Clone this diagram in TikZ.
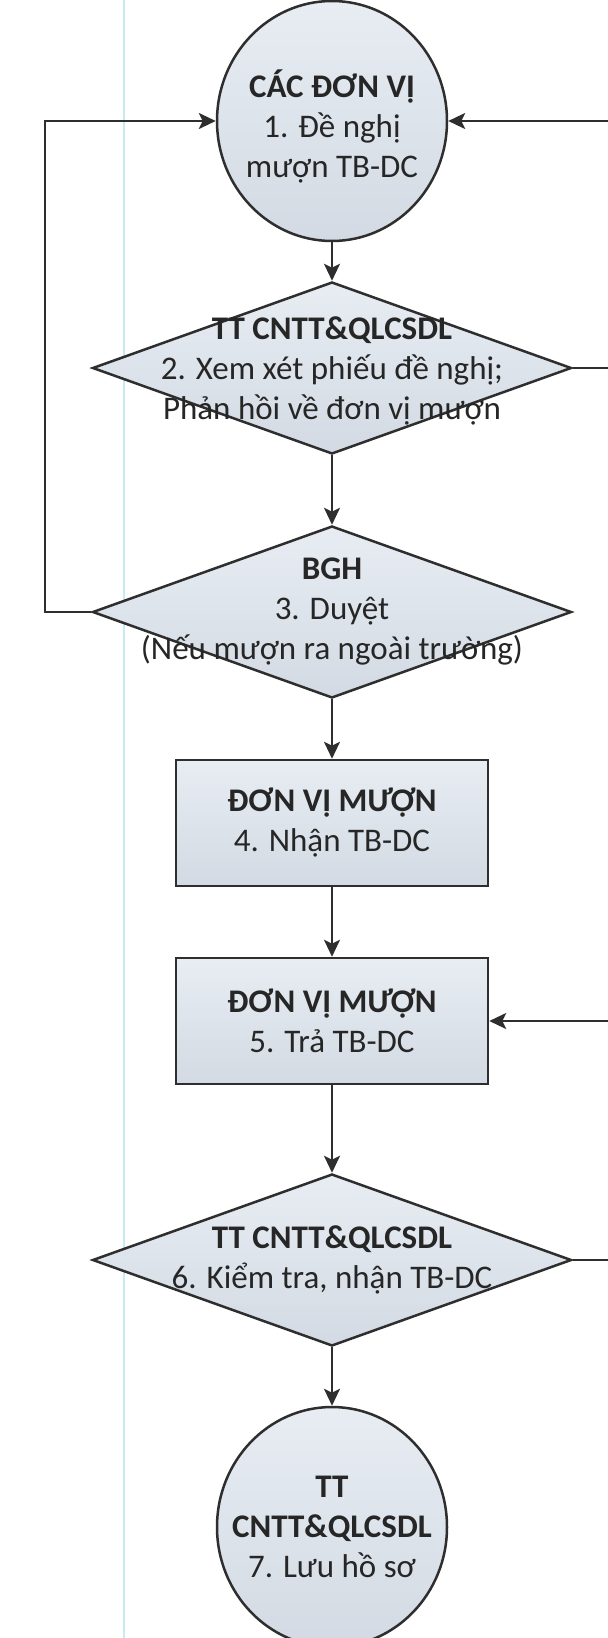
\documentclass[tikz,border=0pt]{standalone}
\usepackage{fontspec}
\setmainfont{Carlito}
\usepackage{xcolor}
\usetikzlibrary{shapes.geometric,arrows.meta,positioning,calc}

\definecolor{linegray}{HTML}{2E2E2E}
\definecolor{filltop}{HTML}{E8EDF3}
\definecolor{fillbot}{HTML}{D3DAE3}
\definecolor{margincyan}{HTML}{C6EBF2}

\tikzset{
  flowline/.style={draw=linegray, line width=1.25pt},
  flowarrow/.style={flowline, -{Stealth[length=8.5pt,width=8pt,inset=2pt]}},
  shapefill/.style={draw=linegray, line width=1.25pt, top color=filltop, bottom color=fillbot},
  oval/.style={shapefill, ellipse, minimum width=115pt, minimum height=120pt, inner sep=0pt},
  decision/.style={shapefill, diamond, minimum width=239.5pt, minimum height=86pt, inner sep=0pt},
  taskbox/.style={shapefill, rectangle, minimum width=156pt, minimum height=63pt, inner sep=0pt},
  flowtext/.style={align=center, text=black!85, inner sep=0pt, font=\fontsize{16.5}{20}\selectfont},
}

\begin{document}
\begin{tikzpicture}[x=0.5pt,y=-0.5pt]
    \path[fill=white, use as bounding box] (0,0) rectangle (608,1638);
    \draw[margincyan, line width=1pt] (124,0) -- (124,1638); % margin

    % Shapes
    \node[oval] (c1) at (332,121) {};
    \node[decision] (d2) at (332,368) {};
    \node[decision] (d3) at (332,612) {};
    \node[taskbox] (b4) at (332,823) {};
    \node[taskbox] (b5) at (332,1021) {};
    \node[decision] (d6) at (332,1260) {};
    \node[oval] (c7) at (332,1527) {};

    % Texts
    \node[flowtext] (t1) at ($(c1)+(0,5)$) {\textbf{CÁC ĐƠN VỊ}\\1. Đề nghị\\mượn TB-DC};
    \node[flowtext] (t2) at ($(d2)+(0,3)$) {\textbf{TT CNTT\&QLCSDL}\\2. Xem xét phiếu đề nghị;\\Phản hồi về đơn vị mượn};
    \node[flowtext] (t3) at (d3) {\textbf{BGH}\\3. Duyệt\\(Nếu mượn ra ngoài trường)};
    \node[flowtext] (t4) at (b4) {\textbf{ĐƠN VỊ MƯỢN}\\4. Nhận TB-DC};
    \node[flowtext] (t5) at (b5) {\textbf{ĐƠN VỊ MƯỢN}\\5. Trả TB-DC};
    \node[flowtext] (t6) at (d6) {\textbf{TT CNTT\&QLCSDL}\\6. Kiểm tra, nhận TB-DC};
    \node[flowtext] (t7) at (c7) {\textbf{TT}\\\textbf{CNTT\&QLCSDL}\\7. Lưu hồ sơ};

    % Main flow
    \draw[flowarrow] (c1.south) -- (d2.north);
    \draw[flowarrow] (d2.south) -- (d3.north);
    \draw[flowarrow] (d3.south) -- (b4.north);
    \draw[flowarrow] (b4.south) -- (b5.north);
    \draw[flowarrow] (b5.south) -- (d6.north);
    \draw[flowarrow] (d6.south) -- (c7.north);

    % Loop back on the left
    \coordinate (back) at (45,612);
    \draw[flowarrow] (d3.west) -- (back) |- (c1.west);

    % Lines leaving on the right
    \coordinate (r1) at (608,121);
    \coordinate (r2) at (608,368);
    \coordinate (r5) at (608,1021);
    \coordinate (r6) at (608,1260);
    \draw[flowarrow] (r1) -- (c1.east);
    \draw[flowline] (d2.east) -- (r2);
    \draw[flowarrow] (r5) -- (b5.east);
    \draw[flowline] (d6.east) -- (r6);
\end{tikzpicture}
\end{document}
